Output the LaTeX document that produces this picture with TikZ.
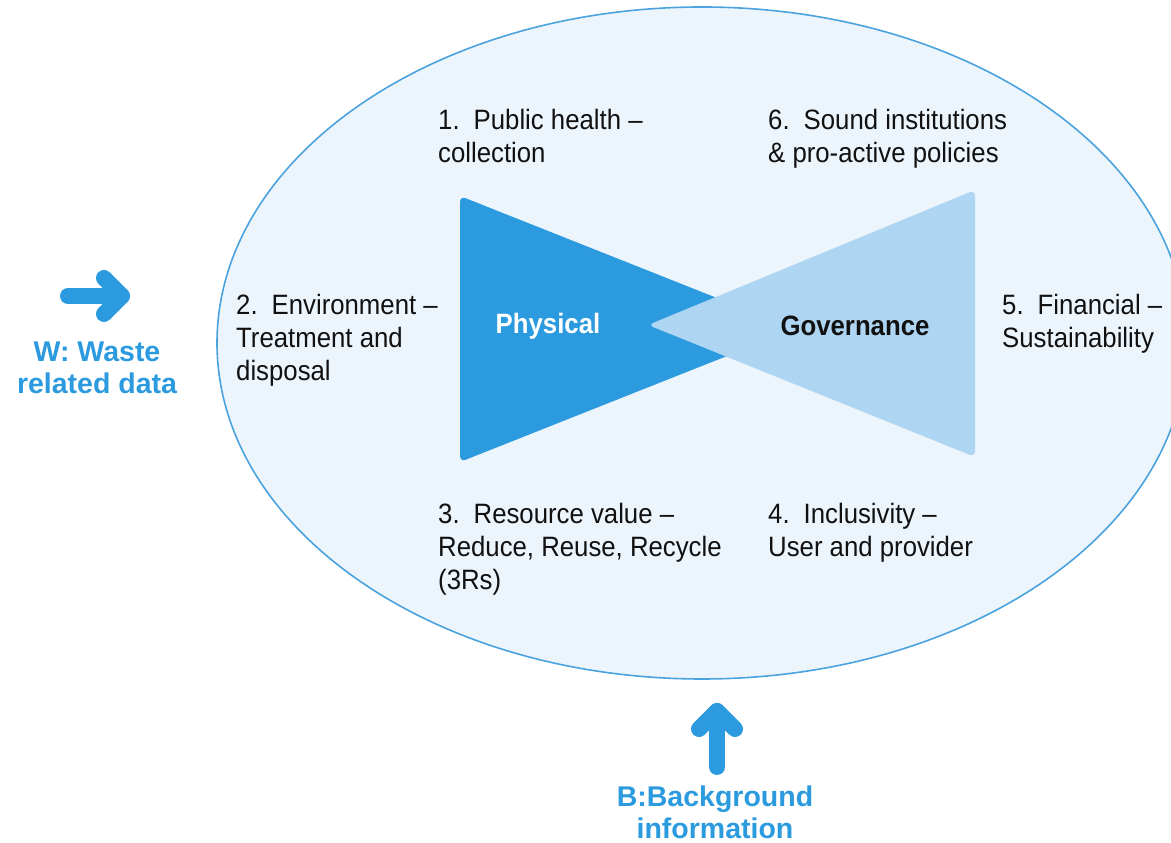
\documentclass[tikz,border=0pt]{standalone}
\usepackage{fontspec}
\setmainfont{Liberation Sans}[FakeStretch=0.92]
\newfontfamily\lblfont{Liberation Sans}
\definecolor{ringfill}{HTML}{EDF5FC}
\definecolor{ringline}{HTML}{4AA3DF}
\definecolor{darkblue}{HTML}{2B9ADF}
\definecolor{lightblue}{HTML}{AED5F1}
\definecolor{txt}{HTML}{111111}
\tikzset{
  item/.style={anchor=base west, inner sep=0pt, text=txt, font=\fontsize{28}{33}\selectfont},
  corelabel/.style={inner sep=0pt, font=\fontsize{28}{33}\selectfont\bfseries},
  bluelabel/.style={anchor=base, inner sep=0pt, text=darkblue, font=\lblfont\fontsize{28.5}{32}\selectfont\bfseries},
  fatarrow/.style={draw=darkblue, line width=16pt, line cap=round, line join=round},
}
\newcommand{\lines}[1]{\begin{tabular}[t]{@{}l@{}}#1\end{tabular}}
\newcommand{\clines}[1]{\begin{tabular}[t]{@{}c@{}}#1\end{tabular}}
\newcommand{\gap}{\hspace{0.5em}}
\begin{document}
\begin{tikzpicture}[x=1pt,y=1pt]
\useasboundingbox (0,0) rectangle (1171,843);
\begin{scope}
\clip (0,0) rectangle (1171,843);
\draw[fill=ringfill, draw=ringline, line width=1.6pt] (702,500) ellipse [x radius=485pt, y radius=336pt];
\end{scope}
% bow tie
\fill[darkblue, rounded corners=6pt] (460,647) -- (795,514) -- (460,381) -- cycle;
\fill[lightblue, rounded corners=6pt] (975,653) -- (648,518) -- (975,386) -- cycle;
\node[corelabel, text=white] (phys) at (548,517) {Physical};
\node[corelabel, text=txt] (gov) at (855,517) {Governance};
% items
\node[item] (i1) at (438,713) {\lines{1.\gap Public health --\\collection}};
\node[item] (i6) at (768,713) {\lines{6.\gap Sound institutions\\\&\ pro-active policies}};
\node[item] (i2) at (236,528) {\lines{2.\gap Environment --\\Treatment and\\disposal}};
\node[item] (i5) at (1002,528) {\lines{5.\gap Financial --\\Sustainability}};
\node[item] (i3) at (438,319) {\lines{3.\gap Resource value --\\Reduce, Reuse, Recycle\\(3Rs)}};
\node[item] (i4) at (768,319) {\lines{4.\gap Inclusivity --\\User and provider}};
% inputs
\node[bluelabel] (w) at (97,481) {\clines{W: Waste\\related data}};
\node[bluelabel] (b) at (715,36) {\clines{B:Background\\information}};
\coordinate (wa) at (68,547);
\coordinate (wt) at (122,547);
\draw[fatarrow] (wa) -- (wt);
\draw[fatarrow] ([shift={(-18,18)}]wt) -- (wt) -- ([shift={(-18,-18)}]wt);
\coordinate (ba) at (717,76);
\coordinate (bt) at (717,132);
\draw[fatarrow] (ba) -- (bt);
\draw[fatarrow] ([shift={(-18,-18)}]bt) -- (bt) -- ([shift={(18,-18)}]bt);
\end{tikzpicture}
\end{document}
